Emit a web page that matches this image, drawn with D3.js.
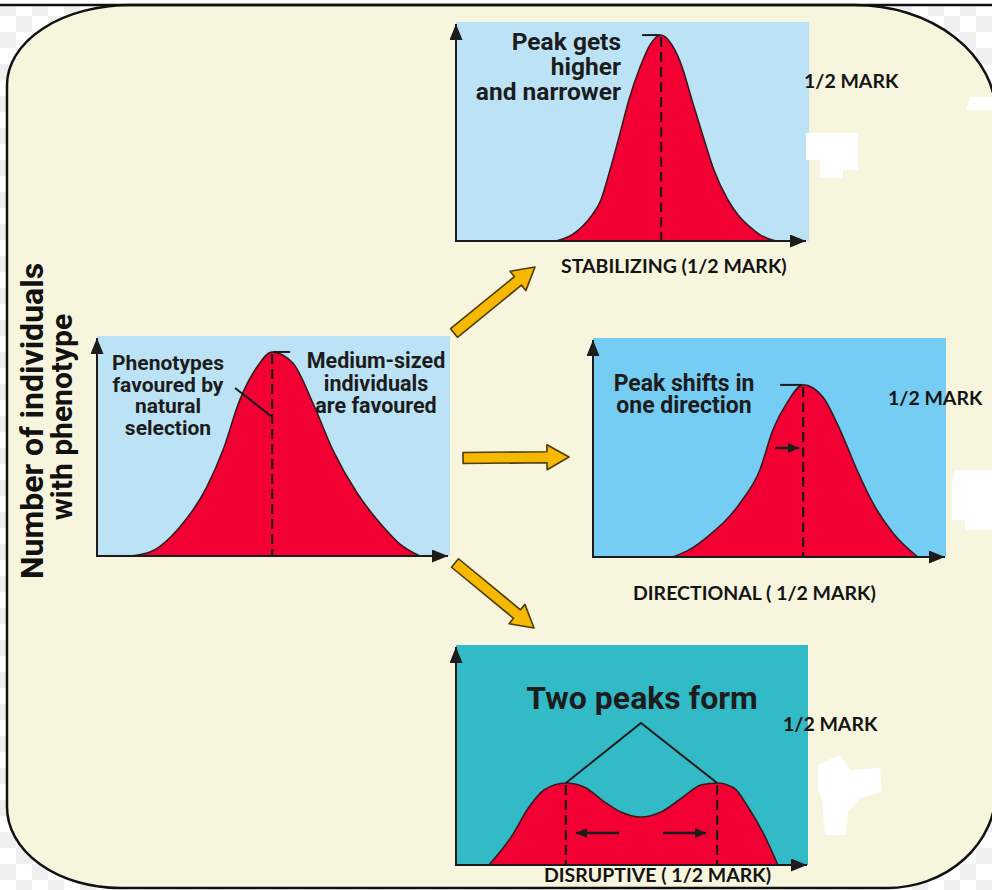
<!DOCTYPE html>
<html>
<head>
<meta charset="utf-8">
<script src="https://cdn.jsdelivr.net/npm/d3@7"></script>
<style>
  body { margin: 0; background: #fff; }
  svg { display: block; }
</style>
</head>
<body>
<svg id="drawing_region"></svg>
<script>
// curve readings: x = phenotype (0-100 along the x axis), y = number of individuals (0-100 of axis height)
const originalX = [9.4, 15.1, 23.6, 31.3, 35.9, 40.7, 45.6, 49.9, 55.8, 61.5, 67.2, 74.1, 80.6, 86.3, 92];
const originalY = [0, 1.8, 13.3, 31.7, 48.6, 71.6, 86.7, 93.6, 88.5, 70.2, 48.6, 28.9, 15.1, 5.5, 0];

const stabilizingX = [28.6, 33.1, 36, 38.9, 41.4, 44, 46.9, 49.4, 52.6, 55.4, 58.6, 61.7, 64.6, 67.4, 70.3, 73.7, 77.7, 80.6, 84, 86.9, 91.4];
const stabilizingY = [0, 2.8, 6.5, 12, 18.9, 32.7, 49.8, 65, 80.2, 90.3, 94.9, 90.3, 80.2, 65, 49.8, 32.7, 18.9, 12, 6.5, 2.8, 0];

const directionalX = [22.7, 27.5, 32.4, 41.8, 47.4, 51.1, 55.1, 59.7, 65.3, 70.2, 75, 79.5, 85.2, 92.3];
const directionalY = [0, 3.5, 9.2, 24.9, 40.1, 58.5, 71, 79.3, 73.7, 58.5, 40.1, 24.9, 11.1, 0];

const disruptiveX = [9.4, 15.7, 20.8, 25.1, 31.3, 36.5, 41.6, 47, 52.7, 58.4, 64.7, 69.8, 74.4, 79.2, 83.2, 87.5, 91.7];
const disruptiveY = [0, 12.8, 26.6, 34.4, 37.6, 35.8, 29.8, 24.3, 22, 24.3, 31.2, 36.7, 37.6, 35.3, 26.6, 14.7, 0];

const yLabel = ['Number of individuals', 'with phenotype'];
const markLabels = ['STABILIZING (1/2 MARK)', 'DIRECTIONAL ( 1/2 MARK)', 'DISRUPTIVE ( 1/2 MARK)'];

const width = 992;
const height = 890;
const RED = '#f20034';
const INK = '#1c1c1c';

const svg = d3.select('#drawing_region')
    .attr('width', width)
    .attr('height', height);

const defs = svg.append('defs');
const checker = defs.append('pattern')
    .attr('id', 'checker')
    .attr('width', 32).attr('height', 32)
    .attr('patternUnits', 'userSpaceOnUse');
checker.append('rect').attr('width', 32).attr('height', 32).attr('fill', '#ffffff');
checker.append('rect').attr('width', 16).attr('height', 16).attr('fill', '#efefef');
checker.append('rect').attr('x', 16).attr('y', 16).attr('width', 16).attr('height', 16).attr('fill', '#efefef');

function addMarker(id, w, l) {
    defs.append('marker')
        .attr('id', id)
        .attr('viewBox', `0 ${-w / 2} ${l} ${w}`)
        .attr('refX', l).attr('refY', 0)
        .attr('markerUnits', 'userSpaceOnUse')
        .attr('markerWidth', l).attr('markerHeight', w)
        .attr('orient', 'auto')
      .append('path')
        .attr('d', `M0,${-w / 2}L${l},0L0,${w / 2}Z`)
        .attr('fill', INK);
}
addMarker('axisArrow', 13, 16);
addMarker('smallArrow', 10, 11);

// background card
svg.append('rect').attr('width', width).attr('height', height).attr('fill', 'url(#checker)');
svg.append('rect').attr('width', width).attr('height', 4).attr('fill', '#fff');
svg.append('path')
    .attr('d', 'M130,5 H855 A141,110 0 0 1 996,115 V790 A109,98 0 0 1 887,888 H120 A113,81 0 0 1 7,807 V85 A123,80 0 0 1 130,5 Z')
    .attr('fill', '#f8f5de')
    .attr('stroke', '#111')
    .attr('stroke-width', 2.5);
svg.append('line')
    .attr('x1', 0).attr('x2', width).attr('y1', 5).attr('y2', 5)
    .attr('stroke', '#111').attr('stroke-width', 2.5);

// panels: axis frame in pixels
const panels = [
    { xs: originalX, ys: originalY, left: 97, right: 448, base: 556, top: 338, rectRight: 450, fill: '#bce3f5' },
    { xs: stabilizingX, ys: stabilizingY, left: 456, right: 806, base: 241, top: 24, rectRight: 809, fill: '#bce3f5' },
    { xs: directionalX, ys: directionalY, left: 593, right: 945, base: 557, top: 340, rectRight: 946, fill: '#75cdf4' },
    { xs: disruptiveX, ys: disruptiveY, left: 456, right: 807, base: 865, top: 647, rectRight: 808, fill: '#33bac7' }
];

panels.forEach(p => {
    p.x = d3.scaleLinear().domain([0, 100]).range([p.left, p.right]);
    p.y = d3.scaleLinear().domain([0, 100]).range([p.base, p.top]);
    p.data = p.xs.map((v, i) => ({ x: v, y: p.ys[i] }));
    p.g = svg.append('g');

    p.g.append('rect')
        .attr('x', p.left).attr('y', p.top - 2)
        .attr('width', p.rectRight - p.left).attr('height', p.base - p.top + 2)
        .attr('fill', p.fill);

    const area = d3.area()
        .curve(d3.curveMonotoneX)
        .x(d => p.x(d.x))
        .y0(p.y(0))
        .y1(d => p.y(d.y));
    const line = d3.line()
        .curve(d3.curveMonotoneX)
        .x(d => p.x(d.x))
        .y(d => p.y(d.y));

    p.g.append('path').attr('d', area(p.data)).attr('fill', RED);
    p.g.append('path').attr('d', line(p.data))
        .attr('fill', 'none').attr('stroke', '#3b1a1d').attr('stroke-width', 1.6);

    // axes with arrowheads
    p.g.append('line')
        .attr('x1', p.x(0)).attr('y1', p.y(0)).attr('x2', p.x(0)).attr('y2', p.y(100))
        .attr('stroke', INK).attr('stroke-width', 2)
        .attr('marker-end', 'url(#axisArrow)');
    p.g.append('line')
        .attr('x1', p.x(0) - 1).attr('y1', p.y(0)).attr('x2', p.x(100)).attr('y2', p.y(0))
        .attr('stroke', INK).attr('stroke-width', 2)
        .attr('marker-end', 'url(#axisArrow)');
});

function dashedAt(p, d) {
    p.g.append('line')
        .attr('x1', p.x(d.x)).attr('x2', p.x(d.x))
        .attr('y1', p.y(d.y) + 2).attr('y2', p.y(0))
        .attr('stroke', INK).attr('stroke-width', 2.2)
        .attr('stroke-dasharray', '10,5');
}
function peakTick(p, d, dx0, dx1) {
    p.g.append('line')
        .attr('x1', p.x(d.x) + dx0).attr('x2', p.x(d.x) + dx1)
        .attr('y1', p.y(d.y)).attr('y2', p.y(d.y))
        .attr('stroke', INK).attr('stroke-width', 2);
}
function smallArrow(x1, x2, y) {
    svg.append('line')
        .attr('x1', x1).attr('x2', x2).attr('y1', y).attr('y2', y)
        .attr('stroke', INK).attr('stroke-width', 2.5)
        .attr('marker-end', 'url(#smallArrow)');
}

// original
const p0 = panels[0], pk0 = p0.data[d3.maxIndex(p0.ys)];
dashedAt(p0, pk0);
peakTick(p0, pk0, 1, 18);
p0.g.append('line')
    .attr('x1', 235).attr('y1', 388).attr('x2', p0.x(pk0.x)).attr('y2', 417)
    .attr('stroke', INK).attr('stroke-width', 2);

// stabilizing
const p1 = panels[1], pk1 = p1.data[d3.maxIndex(p1.ys)];
dashedAt(p1, pk1);
peakTick(p1, pk1, -19, -1);

// directional
const p2 = panels[2], pk2 = p2.data[d3.maxIndex(p2.ys)];
dashedAt(p2, pk2);
peakTick(p2, pk2, -23, -1);
smallArrow(p2.x(pk2.x) - 28, p2.x(pk2.x) - 4, 448);

// disruptive
const p3 = panels[3];
const peaksL = p3.data[d3.maxIndex(p3.ys.slice(0, 8))];
const peaksR = p3.data[8 + d3.maxIndex(p3.ys.slice(8))];
dashedAt(p3, peaksL);
dashedAt(p3, peaksR);
p3.g.append('path')
    .attr('d', d3.line()([[p3.x(peaksL.x), p3.y(peaksL.y)], [641, 723], [p3.x(peaksR.x), p3.y(peaksR.y)]]))
    .attr('fill', 'none').attr('stroke', INK).attr('stroke-width', 2);
smallArrow(619, 576, 833);
smallArrow(663, 706, 833);

// yellow arrows
function fatArrow(t, tip) {
    const dx = tip[0] - t[0], dy = tip[1] - t[1], L = Math.hypot(dx, dy);
    const ux = dx / L, uy = dy / L, nx = -uy, ny = ux;
    const sw = 5.5, hw = 12.5, hl = 22;
    const bx = tip[0] - ux * hl, by = tip[1] - uy * hl;
    const pts = [
        [t[0] + nx * sw, t[1] + ny * sw], [bx + nx * sw, by + ny * sw], [bx + nx * hw, by + ny * hw],
        tip, [bx - nx * hw, by - ny * hw], [bx - nx * sw, by - ny * sw], [t[0] - nx * sw, t[1] - ny * sw]
    ];
    svg.append('path')
        .attr('d', d3.line()(pts) + 'Z')
        .attr('fill', '#f6b800')
        .attr('stroke', '#4d3d06').attr('stroke-width', 1.6)
        .attr('stroke-linejoin', 'round');
}
fatArrow([454, 333], [535, 267]);
fatArrow([463, 458], [569, 457]);
fatArrow([455, 563], [534, 628]);

// texts
function annot(lines, x, y0, step, size, anchor) {
    const t = svg.append('text')
        .attr('font-family', 'Roboto, "Noto Sans", sans-serif')
        .attr('font-weight', 700)
        .attr('font-size', size)
        .attr('fill', INK)
        .attr('text-anchor', anchor);
    lines.forEach((s, i) => t.append('tspan').attr('x', x).attr('y', y0 + i * step).text(s));
}
annot(['Peak gets', 'higher', 'and narrower'], 621, 50, 25, 24.5, 'end');
annot(['Phenotypes', 'favoured by', 'natural', 'selection'], 168, 370, 21.5, 21, 'middle');
annot(['Medium-sized', 'individuals', 'are favoured'], 376, 368, 22.5, 21.5, 'middle');
annot(['Peak shifts in', 'one direction'], 684, 391, 22, 23, 'middle');
annot(['Two peaks form'], 642, 709, 0, 32, 'middle');

function mark(s, x, y) {
    svg.append('text')
        .attr('x', x).attr('y', y)
        .attr('font-family', 'Lato, "Open Sans", sans-serif')
        .attr('font-weight', 700)
        .attr('font-size', 19.5)
        .attr('fill', '#141414')
        .text(s);
}
mark('1/2 MARK', 804, 88);
mark(markLabels[0], 561, 273);
mark('1/2 MARK', 888, 405);
mark(markLabels[1], 633, 600);
mark('1/2 MARK', 783, 731);
mark(markLabels[2], 544, 882);

[[43, 421, 32], [72, 417, 30]].forEach((c, i) => {
    svg.append('text')
        .attr('transform', `translate(${c[0]},${c[1]}) rotate(-90)`)
        .attr('text-anchor', 'middle')
        .attr('font-family', 'Roboto, "Noto Sans", sans-serif')
        .attr('font-weight', 700)
        .attr('font-size', c[2])
        .attr('fill', '#111')
        .text(yLabel[i]);
});

// white patches left over in the source picture
[
    'M806,133 H858 V170 H843 V178 H820 V160 H806 Z',
    'M970,97 H992 V110 H966 Z',
    'M955,470 H992 V530 H965 V520 H952 V485 Z',
    'M818,765 L840,755 L850,770 L880,768 L882,792 L860,798 L848,812 L846,835 L825,835 L822,800 L818,790 Z'
].forEach(d => svg.append('path').attr('d', d).attr('fill', '#fff'));
</script>
</body>
</html>
